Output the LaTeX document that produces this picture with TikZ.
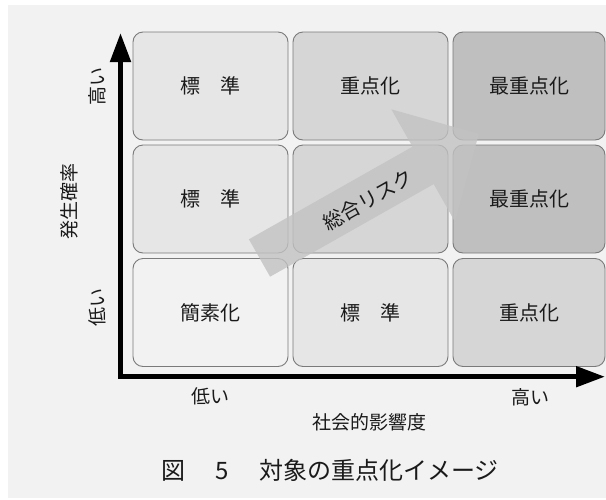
\documentclass[tikz,border=0pt]{standalone}
\usepackage{fontspec}
\setmainfont{Noto Sans CJK JP}
\usetikzlibrary{arrows.meta}
\definecolor{bg}{HTML}{F2F2F2}
\definecolor{lvA}{HTML}{F2F2F2}
\definecolor{lvB}{HTML}{E6E6E6}
\definecolor{lvC}{HTML}{D6D6D6}
\definecolor{lvD}{HTML}{BFBFBF}
\definecolor{cellborder}{HTML}{7A7A7A}
\definecolor{txt}{HTML}{1A1A1A}
\definecolor{riskfill}{HTML}{C2C2C2}
\begin{document}
\begin{tikzpicture}[x=1pt,y=-1pt,
  cell/.style={draw=cellborder, line width=0.9pt, rounded corners=10pt,
    minimum width=155pt, minimum height=108pt, inner sep=0pt, text=txt,
    font=\fontsize{20pt}{24pt}\selectfont},
  lbl/.style={inner sep=0pt, text=txt, font=\fontsize{19pt}{23pt}\selectfont},
  axisline/.style={line width=5pt, line join=miter,
    {Triangle[length=29pt,width=20pt]}-{Triangle[length=29pt,width=20pt]}},
  riskarrow/.style={fill=riskfill, fill opacity=0.8, draw=none}]
\useasboundingbox (0,0) rectangle (606,499);
\fill[white] (0,0) rectangle (606,499);
\fill[bg] (8,5) rectangle (606,498);
% cells
\node[cell, fill=lvB] (c11) at (210.5,86) {標　準};
\node[cell, fill=lvC] (c21) at (370.5,86) {重点化};
\node[cell, fill=lvD, minimum width=152pt] (c31) at (529,86) {最重点化};
\node[cell, fill=lvB] (c12) at (210.5,199) {標　準};
\node[cell, fill=lvC] (c22) at (370.5,199) {};
\node[cell, fill=lvD, minimum width=152pt] (c32) at (529,199) {最重点化};
\node[cell, fill=lvA] (c13) at (210.5,312.5) {簡素化};
\node[cell, fill=lvB] (c23) at (370.5,312.5) {標　準};
\node[cell, fill=lvC, minimum width=152pt] (c33) at (529,312.5) {重点化};
% overall risk arrow
\fill[riskarrow] (248.9,239.3) -- (412.5,146.7) -- (391.3,109.3) -- (478.8,133.9)
  -- (454.9,221.5) -- (433.7,184.1) -- (270.1,276.7) -- cycle;
\node[lbl, rotate=29.5, font=\fontsize{20pt}{24pt}\selectfont] (risk) at (368,200) {総合リスク};
% axes
\coordinate (ytop) at (120.5,33);
\coordinate (origin) at (120.5,376.7);
\coordinate (xend) at (605,376.7);
\draw[axisline] (ytop) -- (origin) -- (xend);
% axis labels
\node[lbl, rotate=90] (yhigh) at (97,86) {高い};
\node[lbl, rotate=90] (ytitle) at (69,201) {発生確率};
\node[lbl, rotate=90] (ylow) at (97,307) {低い};
\node[lbl] (xlow) at (210,396) {低い};
\node[lbl] (xhigh) at (530,397) {高い};
\node[lbl] (xtitle) at (369,422) {社会的影響度};
% caption
\node[inner sep=0pt, anchor=west, text=txt, font=\fontsize{24pt}{28pt}\selectfont] (caption) at (161.5,470)
  {図\hspace{30pt}5\hspace{30pt}対象の重点化イメージ};
\end{tikzpicture}
\end{document}
